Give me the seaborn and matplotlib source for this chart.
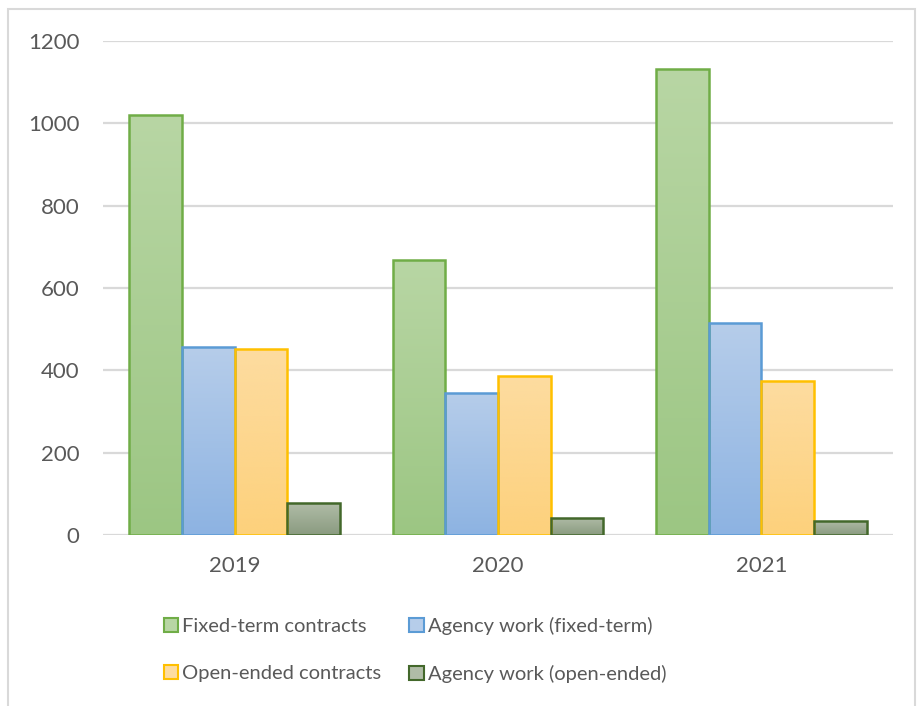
import numpy as np
import pandas as pd
import matplotlib
matplotlib.use("Agg")
import matplotlib.pyplot as plt
from matplotlib.patches import Patch, Rectangle
from matplotlib.colors import LinearSegmentedColormap
import seaborn as sns

# Employment figures by year and contract type
years = ["2019", "2020", "2021"]
series_names = [
    "Fixed-term contracts",
    "Agency work (fixed-term)",
    "Open-ended contracts",
    "Agency work (open-ended)",
]
fixed_term = [1020, 667, 1131]
agency_fixed = [456, 346, 514]
open_ended = [453, 386, 373]
agency_open = [77, 42, 35]
y_ticks = [0, 200, 400, 600, 800, 1000, 1200]

# Edge colour and (top, bottom) gradient fill per series
edge_colors = ["#70AD47", "#5B9BD5", "#FFC000", "#43682B"]
fill_top = ["#B8D6A4", "#B6CDEA", "#FDDCA0", "#B0BCA7"]
fill_bottom = ["#9CC683", "#8DB3E2", "#FDD17C", "#8A9B80"]
text_color = "#595959"
grid_color = "#D9D9D9"

values = [fixed_term, agency_fixed, open_ended, agency_open]
df = pd.DataFrame({
    "year": np.repeat([years], len(series_names), axis=0).ravel(),
    "series": np.repeat(series_names, len(years)),
    "value": np.concatenate(values),
})

sns.set_theme(style="white")
plt.rcParams["font.family"] = ["Lato", "DejaVu Sans"]

W, H = 918, 706
fig = plt.figure(figsize=(W / 100, H / 100), dpi=100)
fig.patch.set_facecolor("white")

# Light border around the whole chart area
fig.add_artist(Rectangle((8 / W, -0.01), (915 - 8) / W, 1.01 - 9 / H,
                         transform=fig.transFigure, fill=False,
                         edgecolor="#D9D9D9", linewidth=1.5))

ax_left, ax_right = 103 / W, 893 / W
ax_bottom, ax_top = 1 - 535 / H, 1 - 41 / H
ax = fig.add_axes([ax_left, ax_bottom, ax_right - ax_left, ax_top - ax_bottom])

sns.barplot(data=df, x="year", y="value", hue="series", order=years,
            hue_order=series_names, palette=fill_bottom, width=0.8,
            legend=False, ax=ax, saturation=1, zorder=3)

ax.set_ylim(0, 1200)
ax.set_yticks(y_ticks)
ax.set_yticklabels([str(t) for t in y_ticks])
ax.set_xlim(-0.5, 2.5)
ax.set_xlabel("")
ax.set_ylabel("")
for side in ["top", "right", "left", "bottom"]:
    ax.spines[side].set_visible(False)
ax.yaxis.grid(True, color=grid_color, linewidth=1.6, zorder=0)
ax.set_axisbelow(True)
ax.tick_params(axis="both", length=0, labelsize=16, colors=text_color)
ax.tick_params(axis="y", pad=17)
ax.tick_params(axis="x", pad=15)

# Vertical gradient fill inside every bar, with the coloured outline on top
for i, container in enumerate(ax.containers):
    cmap = LinearSegmentedColormap.from_list(
        f"grad{i}", [fill_bottom[i], fill_top[i]])
    for bar in container:
        x0, y0 = bar.get_x(), bar.get_y()
        w, h = bar.get_width(), bar.get_height()
        grad = np.linspace(0, 1, 256).reshape(-1, 1)
        img = ax.imshow(grad, cmap=cmap, origin="lower", aspect="auto",
                        extent=[x0, x0 + w, y0, y0 + h], zorder=3,
                        interpolation="bilinear")
        img.set_clip_path(bar)
        bar.set_facecolor("none")
        bar.set_edgecolor(edge_colors[i])
        bar.set_linewidth(1.8)
        bar.set_zorder(4)
ax.set_xlim(-0.5, 2.5)
ax.set_ylim(0, 1200)

# Legend in two rows below the plot
handles = [Patch(facecolor=fill_top[i], edgecolor=edge_colors[i], linewidth=1.5,
                 label=series_names[i]) for i in range(4)]
order = [0, 2, 1, 3]
leg = fig.legend([handles[i] for i in order], [series_names[i] for i in order],
                 ncol=2, loc="center left", bbox_to_anchor=(164 / W, 1 - 650 / H),
                 frameon=False, fontsize=14.5, handlelength=0.7, handleheight=0.7,
                 handletextpad=0.2, columnspacing=1.4, labelspacing=1.45,
                 borderpad=0, borderaxespad=0)
for t in leg.get_texts():
    t.set_color(text_color)

fig.savefig("out.png", dpi=100, facecolor="white")
